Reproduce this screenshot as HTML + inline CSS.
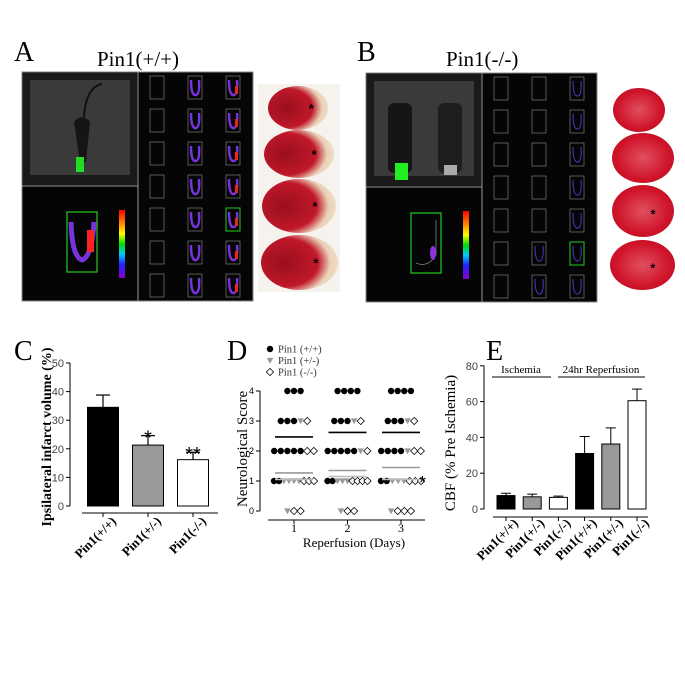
<!DOCTYPE html>
<html><head><meta charset="utf-8"><style>
html,body{margin:0;padding:0;background:#fff;}
#root{position:relative;width:685px;height:685px;overflow:hidden;background:#fff;}
svg{position:absolute;left:0;top:0;}
</style></head><body>
<div id="root">
<svg id="fig" width="685" height="685" viewBox="0 0 685 685" xmlns="http://www.w3.org/2000/svg">
<defs>
<linearGradient id="cbar" x1="0" y1="0" x2="0" y2="1">
<stop offset="0" stop-color="#ff0000"/><stop offset="0.2" stop-color="#ff8800"/><stop offset="0.35" stop-color="#ffff00"/><stop offset="0.5" stop-color="#00dd00"/><stop offset="0.65" stop-color="#00ccff"/><stop offset="0.8" stop-color="#2222ff"/><stop offset="1" stop-color="#8800cc"/>
</linearGradient>
<radialGradient id="brainA" cx="0.3" cy="0.5" r="0.8"><stop offset="0" stop-color="#9a0f1c"/><stop offset="0.55" stop-color="#c0182a"/><stop offset="0.75" stop-color="#e9d2b8"/><stop offset="1" stop-color="#f3e6d0"/></radialGradient>
<radialGradient id="brainB" cx="0.5" cy="0.5" r="0.7"><stop offset="0" stop-color="#e05060"/><stop offset="0.6" stop-color="#d0142a"/><stop offset="1" stop-color="#b00d20"/></radialGradient>
</defs>
<g id="topPanels"></g>
<g id="panelC"></g>
<g id="panelD"></g>
<g id="panelE"></g>
</svg>
</div>
<script>
// ---------- Panel C data ----------
const cCategories = ["Pin1(+/+)", "Pin1(+/-)", "Pin1(-/-)"];
const cValues = [34.5, 21.3, 16.2];
const cErrors = [4.3, 3.3, 2.6];
const cStars = ["", "*", "**"];
const cTicks = [0, 10, 20, 30, 40, 50];
// ---------- Panel D data ----------
const dDays = [1, 2, 3];
const dTicks = [0, 1, 2, 3, 4];
const dWT = [[4,4,4,3,3,3,2,2,2,2,2,1,1],[4,4,4,4,3,3,3,2,2,2,2,2,1,1],[4,4,4,4,3,3,3,2,2,2,2,1,1]];
const dHet = [[3,1,1,1,1,0],[3,2,1,1,1,0],[3,2,1,1,1,0]];
const dKO = [[3,2,2,1,1,1,0,0],[3,2,1,1,1,1,0,0],[3,2,2,1,1,1,0,0,0]];
const dMeanWT = [2.47, 2.62, 2.62];
const dMeanHet = [1.27, 1.35, 1.45];
const dMeanKO = [1.05, 1.15, 1.05];
// ---------- Panel E data ----------
const eCategories = ["Pin1(+/+)", "Pin1(+/-)", "Pin1(-/-)", "Pin1(+/+)", "Pin1(+/-)", "Pin1(-/-)"];
const eValues = [7.5, 6.8, 6.5, 31.0, 36.3, 60.5];
const eErrors = [1.3, 1.5, 0.7, 9.5, 9.0, 6.5];
const eTicks = [0, 20, 40, 60, 80];
const eFills = ["#000", "#999", "#fff", "#000", "#999", "#fff"];

const NS = "http://www.w3.org/2000/svg";
function mk(parent, tag, attrs, text) {
  const el = document.createElementNS(NS, tag);
  for (const k in attrs) el.setAttribute(k, attrs[k]);
  if (text !== undefined) el.textContent = text;
  parent.appendChild(el);
  return el;
}
const SERIF = "'Liberation Serif', serif";
const SANS = "'Liberation Sans', sans-serif";

// ---------- Top image panels ----------
const topG = document.getElementById('topPanels');
function imagingPanel(x0, y0, name, two) {
  const g = mk(topG, 'g', {});
  
  
  mk(g, 'rect', {x:x0, y:y0, width:231, height:229, fill:'#050505', stroke:'#888', 'stroke-width':1});
  mk(g, 'rect', {x:x0+1, y:y0+1, width:114, height:112, fill:'#1a1a1a'});
  mk(g, 'rect', {x:x0+8, y:y0+8, width:100, height:95, fill:'#3a3a3a'});
  if (!two) {
    mk(g, 'path', {d:`M${x0+58} ${y0+90} L${x0+52} ${y0+50} Q${x0+60} ${y0+40} ${x0+68} ${y0+50} L${x0+64} ${y0+90} Z`, fill:'#151515'});
    mk(g, 'path', {d:`M${x0+62} ${y0+45} Q${x0+64} ${y0+15} ${x0+80} ${y0+12}`, fill:'none', stroke:'#111', 'stroke-width':2});
    mk(g, 'rect', {x:x0+54, y:y0+85, width:8, height:15, fill:'#22dd22'});
  } else {
    mk(g, 'rect', {x:x0+22, y:y0+30, width:24, height:70, fill:'#151515', rx:6});
    mk(g, 'rect', {x:x0+72, y:y0+30, width:24, height:70, fill:'#1e1e1e', rx:6});
    mk(g, 'rect', {x:x0+29, y:y0+90, width:13, height:17, fill:'#22ee22'});
    mk(g, 'rect', {x:x0+78, y:y0+92, width:13, height:10, fill:'#aaa'});
  }
  mk(g, 'line', {x1:x0, y1:y0+114, x2:x0+116, y2:y0+114, stroke:'#999', 'stroke-width':1});
  mk(g, 'line', {x1:x0+116, y1:y0, x2:x0+116, y2:y0+229, stroke:'#999', 'stroke-width':1});
  mk(g, 'rect', {x:x0+45, y:y0+140, width:30, height:60, fill:'none', stroke:'#22cc22', 'stroke-width':1.2});
  if (!two) {
    mk(g, 'path', {d:`M${x0+49} ${y0+150} Q${x0+50} ${y0+185} ${x0+60} ${y0+188} Q${x0+70} ${y0+185} ${x0+72} ${y0+150}`, fill:'none', stroke:'#7733dd', 'stroke-width':5});
    mk(g, 'rect', {x:x0+65, y:y0+158, width:7, height:22, fill:'#ff2222'});
  } else {
    mk(g, 'path', {d:`M${x0+70} ${y0+147} L${x0+70} ${y0+182} Q${x0+62} ${y0+195} ${x0+50} ${y0+190}`, fill:'none', stroke:'#aaa', 'stroke-width':0.6});
    mk(g, 'ellipse', {cx:x0+67, cy:y0+180, rx:3, ry:7, fill:'#8833dd'});
  }
  mk(g, 'rect', {x:x0+97, y:y0+138, width:6, height:68, fill:'url(#cbar)'});
  for (let c = 0; c < 3; c++) for (let r = 0; r < 7; r++) {
    const gx = x0+128 + c*38, gy = y0+4 + r*33;
    const hl = (c===2 && r===(two?5:4));
    mk(g, 'rect', {x:gx, y:gy, width:14, height:23, fill:'none', stroke: hl?'#22cc22':'#aaa', 'stroke-width': hl?1:0.5});
    if (c > 0 && !(two && c===1 && r<5)) mk(g, 'path', {d:`M${gx+3} ${gy+4} Q${gx+3} ${gy+20} ${gx+8} ${gy+19} Q${gx+12} ${gy+18} ${gx+11} ${gy+4}`, fill:'none', stroke: two?'#5533cc':'#7733dd', 'stroke-width': two?1:2.5});
    if (c === 2 && !two) mk(g, 'rect', {x:gx+9, y:gy+10, width:3, height:8, fill:'#ee2222'});
  }
}
imagingPanel(22, 72, 'panel-a', false);
imagingPanel(366, 73, 'panel-b', true);

function label(x, y, t, size, name) {
  const el = mk(topG, 'text', {x:x, y:y, 'font-family':SERIF, 'font-size':size, fill:'#000'}, t);
  
  
}
label(14, 61, 'A', 28, 'panel-a-label');
label(97, 66, 'Pin1(+/+)', 21, 'panel-a-title');
label(357, 61, 'B', 28, 'panel-b-label');
label(446, 66, 'Pin1(-/-)', 21, 'panel-b-title');
label(14, 360, 'C', 28, 'panel-c-label');
label(227, 360, 'D', 28, 'panel-d-label');
label(486, 360, 'E', 28, 'panel-e-label');

const slA = mk(topG, 'g', {});


mk(slA, 'rect', {x:258, y:84, width:82, height:208, fill:'#f6f3ef'});
[[268,86,60,44],[264,130,70,48],[262,179,74,54],[261,235,77,55]].forEach((s,i)=>{
  mk(slA, 'ellipse', {cx:s[0]+s[2]/2, cy:s[1]+s[3]/2, rx:s[2]/2, ry:s[3]/2, fill:'url(#brainA)'});
  mk(slA, 'text', {x:s[0]+s[2]*0.68, y:s[1]+s[3]*0.5+5, 'font-family':SANS, 'font-size':13, 'font-weight':'bold'}, '*');
});
const slB = mk(topG, 'g', {});


[[613,88,52,44],[612,133,62,50],[612,185,62,52],[610,240,65,50]].forEach((s,i)=>{
  mk(slB, 'ellipse', {cx:s[0]+s[2]/2, cy:s[1]+s[3]/2, rx:s[2]/2, ry:s[3]/2, fill:'url(#brainB)'});
  if (i>=2) mk(slB, 'text', {x:s[0]+s[2]*0.62, y:s[1]+s[3]*0.55+5, 'font-family':SANS, 'font-size':13, 'font-weight':'bold'}, '*');
});

// ---------- Panel C ----------
(function(){
  const g = document.getElementById('panelC');
  const y = v => 506 - v * 2.86;
  const x = i => 103 + i * 45;
  const bw = 31;
  mk(g, 'line', {x1:70, y1:y(0), x2:70, y2:y(50), stroke:'#000', 'stroke-width':1});
  cTicks.forEach(t => {
    mk(g, 'line', {x1:66, y1:y(t), x2:70, y2:y(t), stroke:'#000'});
    const tl = mk(g, 'text', {x:64, y:y(t)+4, 'text-anchor':'end', 'font-family':SANS, 'font-size':11, fill:'#444'}, String(t));
    
    
  });
  mk(g, 'line', {x1:82, y1:513, x2:218, y2:513, stroke:'#000'});
  const ttl = mk(g, 'text', {x:0, y:0, transform:'translate(51,437) rotate(-90)', 'text-anchor':'middle', 'font-family':SERIF, 'font-size':14, 'font-weight':'bold'}, 'Ipsilateral infarct volume (%)');
  
  
  const fills = ['#000', '#999', '#fff'];
  cValues.forEach((v, i) => {
    const cx = x(i);
    mk(g, 'line', {x1:cx, y1:y(v), x2:cx, y2:y(v + cErrors[i]), stroke:'#000', 'stroke-width':1.2});
    mk(g, 'line', {x1:cx-7, y1:y(v + cErrors[i]), x2:cx+7, y2:y(v + cErrors[i]), stroke:'#000', 'stroke-width':1.2});
    const b = mk(g, 'rect', {x:cx - bw/2, y:y(v), width:bw, height:y(0) - y(v), fill:fills[i], stroke:'#000', 'stroke-width':1});
    
    
    mk(g, 'line', {x1:cx, y1:513, x2:cx, y2:517, stroke:'#000'});
    if (cStars[i]) {
      const s = mk(g, 'text', {x:cx, y:y(v + cErrors[i]) + 9, 'text-anchor':'middle', 'font-family':SANS, 'font-size':20}, cStars[i]);
      
      
    }
    const tl = mk(g, 'text', {x:0, y:0, transform:`translate(${cx+14},522) rotate(-45)`, 'text-anchor':'end', 'font-family':SERIF, 'font-size':13, 'font-weight':'bold'}, cCategories[i]);
    
    
  });
})();

// ---------- Panel D ----------
(function(){
  const g = document.getElementById('panelD');
  const y = v => 511 - v * 30;
  const x = d => 294 + (d - 1) * 53.5;
  mk(g, 'line', {x1:260, y1:y(0), x2:260, y2:y(4), stroke:'#000'});
  dTicks.forEach(t => {
    mk(g, 'line', {x1:256, y1:y(t), x2:260, y2:y(t), stroke:'#000'});
    const tl = mk(g, 'text', {x:254, y:y(t)+3, 'text-anchor':'end', 'font-family':SANS, 'font-size':9}, String(t));
    
    
  });
  mk(g, 'line', {x1:268, y1:520, x2:425, y2:520, stroke:'#000'});
  dDays.forEach(d => {
    mk(g, 'line', {x1:x(d), y1:520, x2:x(d), y2:524, stroke:'#000'});
    const tl = mk(g, 'text', {x:x(d), y:532, 'text-anchor':'middle', 'font-family':SERIF, 'font-size':12}, String(d));
    
    
  });
  const xt = mk(g, 'text', {x:354, y:547, 'text-anchor':'middle', 'font-family':SERIF, 'font-size':13}, 'Reperfusion (Days)');
  
  
  const yt = mk(g, 'text', {x:0, y:0, transform:'translate(247,449) rotate(-90)', 'text-anchor':'middle', 'font-family':SERIF, 'font-size':15}, 'Neurological Score');
  
  
  function marker(type, cx, cy, name) {
    let el;
    if (type === 0) el = mk(g, 'circle', {cx:cx, cy:cy, r:3.2, fill:'#000'});
    else if (type === 1) el = mk(g, 'path', {d:`M${cx-3.3} ${cy-2.6} L${cx+3.3} ${cy-2.6} L${cx} ${cy+3.3} Z`, fill:'#999'});
    else el = mk(g, 'path', {d:`M${cx} ${cy-3.6} L${cx+3.6} ${cy} L${cx} ${cy+3.6} L${cx-3.6} ${cy} Z`, fill:'#fff', stroke:'#000', 'stroke-width':0.8});
    
    
  }
  dDays.forEach((d, di) => {
    const levels = {};
    [[dWT[di],0],[dHet[di],1],[dKO[di],2]].forEach(([arr, type]) => {
      arr.forEach(v => { (levels[v] = levels[v] || []).push(type); });
    });
    Object.keys(levels).forEach(v => {
      const pts = levels[v];
      const n = pts.length;
      const sp = n > 1 ? Math.min(6.6, 40 / (n - 1)) : 0;
      pts.forEach((type, k) => {
        marker(type, x(d) + (k - (n - 1) / 2) * sp, y(+v), ['d-point-wt','d-point-het','d-point-ko'][type]);
      });
    });
    [[dMeanWT,'#000','d-mean-wt'],[dMeanHet,'#999','d-mean-het'],[dMeanKO,'#bbb','d-mean-ko']].forEach(([m,c,n]) => {
      const l = mk(g, 'line', {x1:x(d)-19, y1:y(m[di]), x2:x(d)+19, y2:y(m[di]), stroke:c, 'stroke-width':1.6});
      
      
    });
  });
  const st = mk(g, 'text', {x:419, y:489, 'font-family':SANS, 'font-size':18}, '*');
  
  
  const legend = [['Pin1 (+/+)',0],['Pin1 (+/-)',1],['Pin1 (-/-)',2]];
  legend.forEach(([t, type], i) => {
    const ly = 349 + i * 11.5;
    marker(type, 270, ly, 'd-legend-marker');
    const lt = mk(g, 'text', {x:278, y:ly+3.5, 'font-family':SERIF, 'font-size':10.5, fill:'#333'}, t);
    
    
  });
})();

// ---------- Panel E ----------
(function(){
  const g = document.getElementById('panelE');
  const y = v => 509 - v * 1.79;
  const x = i => 506 + i * 26.2;
  const bw = 18;
  mk(g, 'line', {x1:484, y1:y(0), x2:484, y2:y(80), stroke:'#000'});
  eTicks.forEach(t => {
    mk(g, 'line', {x1:480, y1:y(t), x2:484, y2:y(t), stroke:'#000'});
    const tl = mk(g, 'text', {x:478, y:y(t)+4, 'text-anchor':'end', 'font-family':SANS, 'font-size':11, fill:'#444'}, String(t));
    
    
  });
  mk(g, 'line', {x1:493, y1:517, x2:648, y2:517, stroke:'#000'});
  const yt = mk(g, 'text', {x:0, y:0, transform:'translate(455,443) rotate(-90)', 'text-anchor':'middle', 'font-family':SERIF, 'font-size':15}, 'CBF (% Pre Ischemia)');
  
  
  eValues.forEach((v, i) => {
    const cx = x(i);
    mk(g, 'line', {x1:cx, y1:y(v), x2:cx, y2:y(v + eErrors[i]), stroke:'#000'});
    mk(g, 'line', {x1:cx-5, y1:y(v + eErrors[i]), x2:cx+5, y2:y(v + eErrors[i]), stroke:'#000'});
    const b = mk(g, 'rect', {x:cx - bw/2, y:y(v), width:bw, height:y(0) - y(v), fill:eFills[i], stroke:'#000', 'stroke-width':1});
    
    
    mk(g, 'line', {x1:cx, y1:517, x2:cx, y2:521, stroke:'#000'});
    const tl = mk(g, 'text', {x:0, y:0, transform:`translate(${cx+13},524) rotate(-45)`, 'text-anchor':'end', 'font-family':SERIF, 'font-size':13, 'font-weight':'bold'}, eCategories[i]);
    
    
  });
  mk(g, 'line', {x1:492, y1:377, x2:551, y2:377, stroke:'#000'});
  mk(g, 'line', {x1:558, y1:377, x2:645, y2:377, stroke:'#000'});
  const g1 = mk(g, 'text', {x:521, y:373, 'text-anchor':'middle', 'font-family':SERIF, 'font-size':11}, 'Ischemia');
  
  
  const g2 = mk(g, 'text', {x:601, y:373, 'text-anchor':'middle', 'font-family':SERIF, 'font-size':11}, '24hr Reperfusion');
  
  
})();
</script>
</body></html>
